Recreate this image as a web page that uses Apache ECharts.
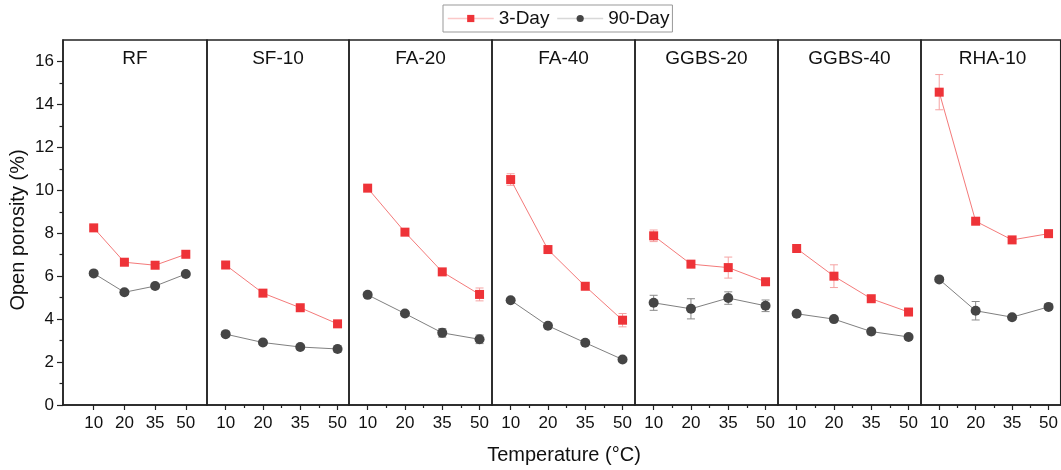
<!DOCTYPE html>
<html>
<head>
<meta charset="utf-8">
<script src="https://cdn.jsdelivr.net/npm/echarts@6/dist/echarts.min.js"></script>
<style>
  html, body { margin: 0; padding: 0; background: #fff; }
  #chart { width: 1061px; height: 470px; }
</style>
</head>
<body>
<div id="chart"></div>
<script>
const temps = ['10', '20', '35', '50'];
const panels = ['RF', 'SF-10', 'FA-20', 'FA-40', 'GGBS-20', 'GGBS-40', 'RHA-10'];

const day3 = [
  [8.25, 6.65, 6.51, 7.02],
  [6.52, 5.21, 4.53, 3.78],
  [10.1, 8.05, 6.20, 5.15],
  [10.5, 7.24, 5.53, 3.95],
  [7.88, 6.56, 6.40, 5.74],
  [7.29, 6.00, 4.95, 4.33],
  [14.57, 8.56, 7.69, 7.98]
];
const day3Err = [
  [0.1, 0.1, 0.1, 0.1],
  [0.1, 0.1, 0.1, 0.12],
  [0.1, 0.1, 0.1, 0.3],
  [0.27, 0.1, 0.1, 0.31],
  [0.27, 0.1, 0.49, 0.1],
  [0.1, 0.53, 0.1, 0.1],
  [0.82, 0.1, 0.1, 0.1]
];
const day90 = [
  [6.13, 5.25, 5.54, 6.10],
  [3.30, 2.91, 2.70, 2.61],
  [5.13, 4.26, 3.36, 3.06],
  [4.88, 3.69, 2.90, 2.12],
  [4.76, 4.48, 4.98, 4.62],
  [4.25, 4.00, 3.42, 3.17],
  [5.85, 4.39, 4.09, 4.57]
];
const day90Err = [
  [0.1, 0.1, 0.1, 0.1],
  [0.1, 0.1, 0.1, 0.15],
  [0.1, 0.1, 0.2, 0.2],
  [0.1, 0.1, 0.1, 0.1],
  [0.35, 0.47, 0.29, 0.27],
  [0.1, 0.1, 0.15, 0.1],
  [0.1, 0.43, 0.1, 0.1]
];
const yTicks = [0, 2, 4, 6, 8, 10, 12, 14, 16];
const yMinorTicks = [1, 3, 5, 7, 9, 11, 13, 15];

const FONT = '"Liberation Sans", Arial, sans-serif';
const RED = '#EE3338', RED_LINE = '#F47A7A', RED_ERR = '#F5A3A3';
const GRAY = '#454545', GRAY_LINE = '#808080', GRAY_ERR = '#8A8A8A';

const lefts = [63, 207, 349, 492, 635, 778, 921];
const widths = [144, 142, 143, 143, 143, 143, 143];

const chart = echarts.init(document.getElementById('chart'), null, { renderer: 'canvas' });

const grid = [], xAxis = [], yAxis = [], series = [], graphic = [];

function errRender(color) {
  return (params, api) => {
    const x = api.value(0);
    const a = api.coord([x, api.value(2)]);
    const b = api.coord([x, api.value(1)]);
    const w = 4;
    const st = { stroke: color, lineWidth: 1 };
    return {
      type: 'group',
      children: [
        { type: 'line', shape: { x1: a[0], y1: a[1], x2: b[0], y2: b[1] }, style: st },
        { type: 'line', shape: { x1: a[0] - w, y1: a[1], x2: a[0] + w, y2: a[1] }, style: st },
        { type: 'line', shape: { x1: b[0] - w, y1: b[1], x2: b[0] + w, y2: b[1] }, style: st }
      ]
    };
  };
}

panels.forEach((name, i) => {
  grid.push({ left: lefts[i], width: widths[i], top: 40, height: 365, show: true,
    borderColor: '#222', borderWidth: 1.5, backgroundColor: 'transparent' });

  const xMin = i === 0 ? 0 : 0.5;
  const xMax = i === 0 ? 4.69 : xMin + widths[i] / 37.3;
  const xi = xAxis.length;
  xAxis.push({
    type: 'value', gridIndex: i, min: xMin, max: xMax, position: 'bottom',
    axisLine: { show: true, lineStyle: { color: '#222', width: 1.5 } },
    axisTick: { show: true, length: 5, customValues: [1, 2, 3, 4], lineStyle: { color: '#222', width: 1.2 } },
    axisLabel: { customValues: [1, 2, 3, 4], formatter: v => temps[Math.round(v) - 1],
      fontSize: 17, fontFamily: FONT, color: '#111', margin: 10 },
    splitLine: { show: false }
  });
  if (i > 0) {
    xAxis.push({
      type: 'value', gridIndex: i, min: xMin, max: xMax, position: 'bottom', offset: 0,
      axisLine: { show: false },
      axisTick: { show: true, length: 3, customValues: [1.5, 2.5, 3.5], lineStyle: { color: '#222', width: 1.2 } },
      axisLabel: { show: false },
      splitLine: { show: false }
    });
  }

  const yi = yAxis.length;
  if (i === 0) {
    yAxis.push({
      type: 'value', gridIndex: 0, min: 0, max: 17, interval: 2,
      axisLine: { show: true, lineStyle: { color: '#222', width: 1.5 } },
      axisTick: { show: true, length: 6, customValues: yTicks, lineStyle: { color: '#222', width: 1.2 } },
      axisLabel: { customValues: yTicks, fontSize: 17, fontFamily: FONT, color: '#111', margin: 9 },
      splitLine: { show: false }
    });
    yAxis.push({
      type: 'value', gridIndex: 0, min: 0, max: 17, interval: 2, position: 'left', offset: 0,
      axisLine: { show: false },
      axisTick: { show: true, length: 3.5, customValues: yMinorTicks, lineStyle: { color: '#222', width: 1.2 } },
      axisLabel: { show: false },
      splitLine: { show: false }
    });
  } else {
    yAxis.push({ type: 'value', gridIndex: i, min: 0, max: 17, show: false, splitLine: { show: false } });
  }

  series.push({
    type: 'custom', xAxisIndex: xi, yAxisIndex: yi, z: 1, silent: true,
    renderItem: errRender(RED_ERR),
    data: day3[i].map((v, k) => [k + 1, v - day3Err[i][k], v + day3Err[i][k]])
  });
  series.push({
    type: 'custom', xAxisIndex: xi, yAxisIndex: yi, z: 1, silent: true,
    renderItem: errRender(GRAY_ERR),
    data: day90[i].map((v, k) => [k + 1, v - day90Err[i][k], v + day90Err[i][k]])
  });
  series.push({
    name: '3-Day', type: 'line', xAxisIndex: xi, yAxisIndex: yi, z: 3,
    symbol: 'rect', symbolSize: 9,
    itemStyle: { color: RED }, lineStyle: { color: RED_LINE, width: 1 },
    data: day3[i].map((v, k) => [k + 1, v])
  });
  series.push({
    name: '90-Day', type: 'line', xAxisIndex: xi, yAxisIndex: yi, z: 2,
    symbol: 'circle', symbolSize: 10,
    itemStyle: { color: GRAY }, lineStyle: { color: GRAY_LINE, width: 1 },
    data: day90[i].map((v, k) => [k + 1, v])
  });

  graphic.push({
    type: 'text', x: lefts[i] + widths[i] / 2, y: 59,
    style: { text: name, fontSize: 19, fontFamily: FONT, fill: '#111',
      textAlign: 'center', textVerticalAlign: 'middle' }
  });
});

graphic.push({
  type: 'text', x: 564, y: 455, style: { text: 'Temperature (°C)', fontSize: 20, fontFamily: FONT,
    fill: '#111', textAlign: 'center', textVerticalAlign: 'middle' }
});
graphic.push({
  type: 'text', x: 18, y: 230, rotation: Math.PI / 2,
  style: { text: 'Open porosity (%)', fontSize: 20, fontFamily: FONT,
    fill: '#111', textAlign: 'center', textVerticalAlign: 'middle' }
});

chart.setOption({
  animation: false,
  backgroundColor: '#fff',
  legend: {
    data: [
      { name: '3-Day', lineStyle: { color: '#FBC8C8', width: 1.5 } },
      { name: '90-Day', lineStyle: { color: '#D8D8D8', width: 1.5 } }
    ],
    left: 443, top: 5,
    itemWidth: 46, itemHeight: 9, itemGap: 7,
    borderColor: '#999', borderWidth: 1, padding: [4, 3, 4, 4],
    textStyle: { fontSize: 19, fontFamily: FONT, color: '#111' }
  },
  grid, xAxis, yAxis, series, graphic
});
</script>
</body>
</html>
